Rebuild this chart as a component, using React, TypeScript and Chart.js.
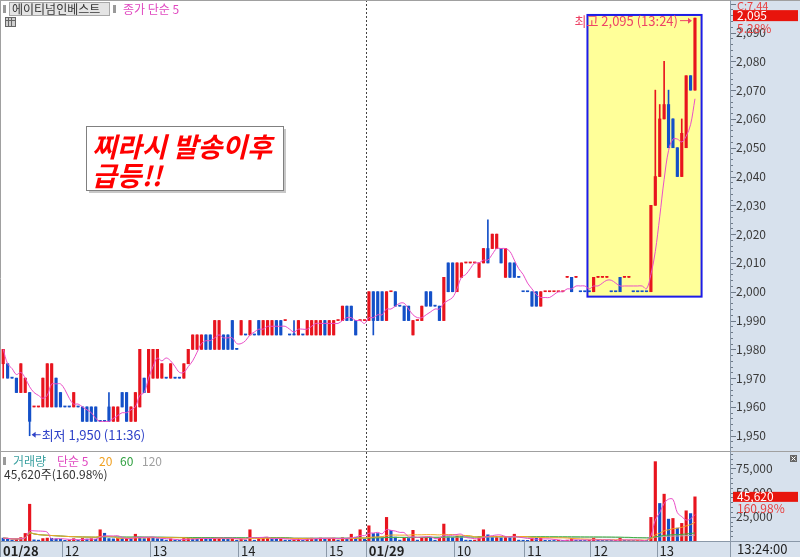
import { useEffect, useRef } from 'react';
import { Chart, registerables } from 'chart.js';

Chart.register(...registerables);

// ---- data (3-minute candles, 01/28 11:18 .. 01/29 13:24) ----
const OPEN = [
  1975, 1975, 1970, 1970, 1965, 1965, 1965, 1960, 1960, 1960,
  1960, 1960, 1970, 1965, 1960, 1960, 1960, 1960, 1960, 1960,
  1960, 1960, 1955, 1955, 1960, 1955, 1955, 1965, 1965, 1955,
  1955, 1960, 1970, 1965, 1970, 1970, 1970, 1970, 1970, 1970,
  1970, 1970, 1975, 1980, 1980, 1980, 1985, 1985, 1980, 1980,
  1985, 1985, 1990, 1980, 1985, 1985, 1985, 1985, 1990, 1985,
  1985, 1985, 1990, 1990, 1990, 1985, 1985, 1985, 1985, 1985,
  1985, 1985, 1985, 1990, 1985, 1985, 1990, 1990, 1995, 1995,
  1990, 1990, 1990, 1990, 2000, 2000, 2000, 1990, 2000, 2000,
  1995, 1995, 1995, 1985, 1990, 1990, 2000, 2000, 1995, 1995,
  1990, 2010, 2010, 2000, 2005, 2010, 2010, 2010, 2005, 2010,
  2015, 2015, 2015, 2015, 2005, 2010, 2010, 2005, 2000, 2000,
  2000, 2000, 1995, 2000, 2000, 2000, 2000, 2000, 2005, 2005,
  2005, 2000, 2000, 2000, 2000, 2005, 2005, 2005, 2000, 2000,
  2005, 2005, 2005, 2000, 2000, 2000, 2000, 2000, 2030, 2040,
  2060, 2065, 2060, 2050, 2040, 2050, 2075, 2070,
];
const HIGH = [
  1980, 1975, 1970, 1970, 1975, 1970, 1965, 1960, 1960, 1970,
  1975, 1975, 1970, 1965, 1960, 1960, 1965, 1960, 1960, 1960,
  1960, 1960, 1955, 1955, 1965, 1960, 1960, 1965, 1965, 1960,
  1965, 1980, 1970, 1980, 1980, 1980, 1975, 1970, 1975, 1970,
  1970, 1975, 1980, 1985, 1985, 1985, 1985, 1985, 1990, 1990,
  1985, 1985, 1990, 1980, 1990, 1985, 1990, 1985, 1990, 1990,
  1990, 1990, 1990, 1990, 1990, 1985, 1990, 1990, 1985, 1990,
  1990, 1990, 1990, 1990, 1990, 1990, 1990, 1995, 1995, 1995,
  1990, 1990, 1990, 2000, 2000, 2000, 2000, 2000, 2000, 2000,
  1995, 1995, 1995, 1990, 1990, 1995, 2000, 2000, 1995, 1995,
  2005, 2010, 2010, 2010, 2010, 2010, 2010, 2010, 2010, 2015,
  2025, 2020, 2020, 2015, 2015, 2010, 2010, 2005, 2000, 2000,
  2000, 2000, 2000, 2000, 2000, 2000, 2000, 2000, 2005, 2005,
  2005, 2000, 2000, 2000, 2005, 2005, 2005, 2005, 2000, 2000,
  2005, 2005, 2005, 2000, 2000, 2000, 2000, 2030, 2070, 2065,
  2080, 2070, 2060, 2050, 2060, 2075, 2075, 2095,
];
const LOW = [
  1970, 1970, 1970, 1965, 1965, 1965, 1950, 1960, 1960, 1960,
  1960, 1960, 1960, 1960, 1960, 1960, 1960, 1960, 1955, 1955,
  1955, 1955, 1955, 1955, 1955, 1955, 1955, 1960, 1955, 1955,
  1955, 1960, 1965, 1965, 1970, 1970, 1970, 1970, 1970, 1970,
  1970, 1970, 1975, 1980, 1980, 1980, 1980, 1980, 1980, 1980,
  1980, 1980, 1980, 1980, 1985, 1985, 1985, 1985, 1985, 1985,
  1985, 1985, 1985, 1985, 1990, 1985, 1985, 1985, 1985, 1985,
  1985, 1985, 1985, 1985, 1985, 1985, 1990, 1990, 1990, 1990,
  1985, 1990, 1990, 1990, 1985, 1990, 1990, 1990, 2000, 1995,
  1995, 1990, 1990, 1985, 1990, 1990, 1995, 1995, 1995, 1990,
  1990, 2000, 2000, 2000, 2005, 2010, 2010, 2010, 2005, 2010,
  2010, 2015, 2015, 2010, 2005, 2005, 2005, 2005, 2000, 2000,
  1995, 1995, 1995, 2000, 2000, 2000, 2000, 2000, 2005, 2000,
  2005, 2000, 2000, 2000, 2000, 2005, 2005, 2005, 2000, 2000,
  2000, 2005, 2005, 2000, 2000, 2000, 2000, 2000, 2030, 2040,
  2060, 2050, 2050, 2040, 2040, 2050, 2070, 2070,
];
const CLOSE = [
  1980, 1970, 1970, 1965, 1975, 1970, 1955, 1960, 1960, 1970,
  1975, 1975, 1960, 1960, 1960, 1960, 1965, 1960, 1955, 1955,
  1955, 1955, 1955, 1955, 1955, 1960, 1960, 1960, 1955, 1960,
  1965, 1980, 1965, 1980, 1980, 1980, 1975, 1970, 1975, 1970,
  1970, 1975, 1980, 1985, 1985, 1985, 1980, 1980, 1990, 1990,
  1980, 1980, 1980, 1980, 1990, 1985, 1990, 1985, 1985, 1990,
  1990, 1990, 1985, 1985, 1990, 1985, 1985, 1990, 1985, 1990,
  1990, 1990, 1990, 1985, 1990, 1990, 1990, 1995, 1990, 1990,
  1985, 1990, 1990, 2000, 1990, 1990, 1990, 2000, 2000, 1995,
  1995, 1990, 1990, 1990, 1990, 1995, 1995, 1995, 1995, 1990,
  2005, 2000, 2000, 2010, 2010, 2010, 2010, 2010, 2010, 2015,
  2010, 2020, 2020, 2010, 2015, 2005, 2005, 2005, 2000, 2000,
  1995, 1995, 2000, 2000, 2000, 2000, 2000, 2000, 2005, 2000,
  2005, 2000, 2000, 2000, 2005, 2005, 2005, 2005, 2000, 2000,
  2000, 2005, 2005, 2000, 2000, 2000, 2000, 2030, 2040, 2060,
  2065, 2050, 2050, 2040, 2055, 2075, 2070, 2095,
];
const VOLUME = [
  3000, 2500, 800, 2000, 3500, 7800, 38000, 1200, 900, 2500,
  3000, 2800, 2200, 1800, 700, 900, 2400, 800, 2600, 2000,
  2400, 1800, 11600, 8000, 2500, 2200, 3000, 2600, 2800, 2400,
  7000, 4000, 2500, 3600, 3200, 2400, 2000, 900, 2200, 800,
  700, 2600, 3000, 2400, 2200, 3000, 2800, 2500, 3200, 3400,
  2600, 2400, 3000, 800, 2200, 900, 11600, 800, 2600, 2800,
  3000, 2600, 2400, 2600, 900, 800, 1200, 2600, 900, 2800,
  3000, 2600, 3200, 2400, 2800, 3000, 900, 3600, 2800, 7000,
  4000, 11600, 2000, 15700, 7700, 7700, 4200, 24400, 11000, 4000,
  900, 3000, 2600, 11000, 900, 3200, 4000, 3600, 800, 3400,
  17500, 4200, 3800, 5000, 4600, 900, 800, 900, 4400, 11600,
  6400, 4200, 4800, 3600, 4400, 3800, 7000, 900, 800, 700,
  3200, 2800, 3400, 700, 600, 600, 700, 600, 900, 2600,
  800, 700, 600, 700, 3000, 800, 700, 700, 600, 700,
  2800, 800, 700, 600, 700, 700, 600, 24400, 82000, 38800,
  48400, 22600, 23300, 13300, 18200, 31200, 28339, 45620,
];

const X_TICK_INDEX = [0, 14, 34, 54, 74, 83, 103, 119, 134, 149];
const X_TICK_LABELS = ['01/28', '12', '13', '14', '15', '01/29', '10', '11', '12', '13'];
const X_MAX = 165.45;
const PRICE_MIN = 1944.7;
const PRICE_MAX = 2100.6;
const VOL_MAX = 93000;
const DAY_BREAK_INDEX = 83;
const HIGH_INDEX = 157;
const LOW_INDEX = 6;
const HIGH_NOTE = '최고 2,095 (13:24)';
const LOW_NOTE = '최저 1,950 (11:36)';
const BOX_X = [133.1, 159.0];
const BOX_Y = [1998.3, 2096.1];
const LAST_PRICE = '2,095';
const LAST_CHANGE = '5.28%';
const LAST_VOLUME = '45,620';
const LAST_VOLUME_RATIO = '160.98%';
const LAST_TIME = '13:24:00';

const RED = '#e8141e';
const BLUE = '#1450c8';
const MA_PINK = '#ea4fc8';
const AXIS_BG = '#d7e1ed';
const FONT = '"Noto Sans CJK KR", "Noto Sans", sans-serif';

function sma(arr: number[], n: number): number[] {
  return arr.map((_, i) => {
    const s = Math.max(0, i - n + 1);
    let t = 0;
    for (let k = s; k <= i; k++) t += arr[k];
    return t / (i - s + 1);
  });
}

function candleColors(): string[] {
  const out: string[] = [];
  for (let i = 0; i < OPEN.length; i++) {
    if (CLOSE[i] > OPEN[i]) out.push(RED);
    else if (CLOSE[i] < OPEN[i]) out.push(BLUE);
    else if (i === 0) out.push(RED);
    else if (CLOSE[i] > CLOSE[i - 1]) out.push(RED);
    else if (CLOSE[i] < CLOSE[i - 1]) out.push(BLUE);
    else out.push(out[i - 1]);
  }
  return out;
}

// volume bars: red when volume rose vs the previous bar, blue when it fell
function volumeColors(): string[] {
  const out: string[] = [];
  for (let i = 0; i < VOLUME.length; i++) {
    if (i === 0) out.push(BLUE);
    else if (VOLUME[i] > VOLUME[i - 1]) out.push(RED);
    else if (VOLUME[i] < VOLUME[i - 1]) out.push(BLUE);
    else out.push(out[i - 1]);
  }
  return out;
}

const htsPlugin = {
  id: 'htsDecor',
  beforeDraw(chart: any) {
    const { ctx } = chart;
    ctx.save();
    ctx.fillStyle = '#ffffff';
    ctx.fillRect(0, 0, 800, 557);
    ctx.fillStyle = AXIS_BG;
    ctx.fillRect(730, 0, 70, 557);
    ctx.fillRect(0, 541, 730, 16);
    ctx.restore();
  },
  beforeDatasetsDraw(chart: any) {
    const { ctx } = chart;
    const x = chart.scales.x;
    const y = chart.scales.y;
    ctx.save();
    const bx0 = x.getPixelForValue(BOX_X[0]);
    const bx1 = x.getPixelForValue(BOX_X[1]);
    const by0 = y.getPixelForValue(BOX_Y[1]);
    const by1 = y.getPixelForValue(BOX_Y[0]);
    ctx.fillStyle = '#ffff99';
    ctx.fillRect(bx0, by0, bx1 - bx0, by1 - by0);
    ctx.strokeStyle = '#1c1ce8';
    ctx.lineWidth = 2;
    ctx.strokeRect(bx0, by0, bx1 - bx0, by1 - by0);
    const dx = Math.round(x.getPixelForValue(DAY_BREAK_INDEX)) - 0.5;
    ctx.strokeStyle = '#444';
    ctx.lineWidth = 1;
    ctx.setLineDash([2, 2]);
    ctx.beginPath();
    ctx.moveTo(dx, 0);
    ctx.lineTo(dx, 541);
    ctx.stroke();
    ctx.setLineDash([]);
    ctx.restore();
  },
  afterDraw(chart: any) {
    const { ctx } = chart;
    const x = chart.scales.x;
    const y = chart.scales.y;
    const yv = chart.scales.yv;
    ctx.save();
    ctx.lineWidth = 1;
    ctx.strokeStyle = '#a0a0a0';
    ctx.beginPath();
    ctx.moveTo(0, 0.5); ctx.lineTo(800, 0.5);
    ctx.moveTo(0.5, 0); ctx.lineTo(0.5, 557);
    ctx.moveTo(0, 451.5); ctx.lineTo(800, 451.5);
    ctx.stroke();
    ctx.strokeStyle = '#8a98a8';
    ctx.beginPath();
    ctx.moveTo(730.5, 0); ctx.lineTo(730.5, 557);
    ctx.moveTo(0, 541.5); ctx.lineTo(800, 541.5);
    ctx.stroke();
    ctx.beginPath();
    for (const t of x.ticks) {
      const px = Math.round(x.getPixelForValue(t.value)) - 0.5;
      ctx.moveTo(px, 541); ctx.lineTo(px, 557);
    }
    ctx.stroke();
    ctx.strokeStyle = '#6e7a88';
    ctx.beginPath();
    for (const t of y.ticks) {
      const py = Math.round(y.getPixelForValue(t.value)) + 0.5;
      if (py < 3 || py > 450) continue;
      const len = t.value % 10 === 0 ? 5 : 2;
      ctx.moveTo(731, py); ctx.lineTo(731 + len, py);
    }
    for (const t of yv.ticks) {
      const py = Math.round(yv.getPixelForValue(t.value)) + 0.5;
      if (py < 453 || py > 540) continue;
      const len = t.value % 25000 === 0 ? 5 : 2;
      ctx.moveTo(731, py); ctx.lineTo(731 + len, py);
    }
    ctx.stroke();

    ctx.textBaseline = 'middle';
    ctx.textAlign = 'left';
    ctx.fillStyle = '#9a9a9a';
    ctx.fillRect(3, 5, 3, 8);
    ctx.fillStyle = '#e4e4e4';
    ctx.fillRect(9.5, 2.5, 100, 13);
    ctx.strokeStyle = '#a8a8a8';
    ctx.strokeRect(9.5, 2.5, 100, 13);
    ctx.fillStyle = '#333';
    ctx.font = `12px ${FONT}`;
    ctx.fillText('에이티넘인베스트', 12, 9.5);
    ctx.fillStyle = '#9a9a9a';
    ctx.fillRect(113, 5, 3, 8);
    ctx.fillStyle = '#e048c0';
    ctx.fillText('종가 단순 5', 123, 9.5);
    ctx.strokeStyle = '#666';
    ctx.fillStyle = '#cfcfcf';
    ctx.fillRect(5.5, 17.5, 10, 9);
    ctx.strokeRect(5.5, 17.5, 10, 9);
    ctx.beginPath();
    ctx.moveTo(8.5, 17.5); ctx.lineTo(8.5, 26.5);
    ctx.moveTo(11.5, 17.5); ctx.lineTo(11.5, 26.5);
    ctx.moveTo(5.5, 20.5); ctx.lineTo(15.5, 20.5);
    ctx.stroke();

    ctx.fillStyle = '#9a9a9a';
    ctx.fillRect(3, 457, 3, 8);
    const vh: [string, string, number][] = [
      ['거래량', '#3aa0a0', 13], ['단순 5', '#e048c0', 57], ['20', '#f0a020', 99], ['60', '#30a040', 120], ['120', '#a0a0a0', 142],
    ];
    for (const [t, c, px] of vh) { ctx.fillStyle = c; ctx.fillText(t, px, 461); }
    ctx.fillStyle = '#333';
    ctx.fillText(`${LAST_VOLUME}주(${LAST_VOLUME_RATIO})`, 4, 474);
    ctx.fillStyle = '#666';
    ctx.fillRect(790, 455, 7, 7);
    ctx.strokeStyle = '#fff';
    ctx.beginPath();
    ctx.moveTo(791.5, 456.5); ctx.lineTo(795.5, 460.5);
    ctx.moveTo(795.5, 456.5); ctx.lineTo(791.5, 460.5);
    ctx.stroke();

    ctx.font = `13px ${FONT}`;
    const hx = x.getPixelForValue(HIGH_INDEX + 0.5);
    const hy = y.getPixelForValue(HIGH[HIGH_INDEX]) + 2.5;
    ctx.strokeStyle = '#ee4466';
    ctx.fillStyle = '#ee4466';
    ctx.beginPath();
    ctx.moveTo(hx - 15, hy); ctx.lineTo(hx - 4, hy);
    ctx.stroke();
    ctx.beginPath();
    ctx.moveTo(hx - 3, hy); ctx.lineTo(hx - 7, hy - 3); ctx.lineTo(hx - 7, hy + 3); ctx.closePath();
    ctx.fill();
    ctx.textAlign = 'right';
    ctx.fillText(HIGH_NOTE, hx - 17, hy);
    ctx.textAlign = 'left';

    const lx = x.getPixelForValue(LOW_INDEX + 0.5) + 2;
    const ly = y.getPixelForValue(LOW[LOW_INDEX]) - 1;
    ctx.strokeStyle = '#2f42c8';
    ctx.fillStyle = '#2f42c8';
    ctx.beginPath();
    ctx.moveTo(lx + 1, ly); ctx.lineTo(lx + 9, ly);
    ctx.stroke();
    ctx.beginPath();
    ctx.moveTo(lx, ly); ctx.lineTo(lx + 4, ly - 3); ctx.lineTo(lx + 4, ly + 3); ctx.closePath();
    ctx.fill();
    ctx.fillText(LOW_NOTE, lx + 10, ly);

    ctx.fillStyle = '#c8c8c8';
    ctx.fillRect(89, 129, 197, 64);
    ctx.fillStyle = '#ffffff';
    ctx.fillRect(86.5, 126.5, 197, 64);
    ctx.strokeStyle = '#808080';
    ctx.strokeRect(86.5, 126.5, 197, 64);
    ctx.fillStyle = '#ff0000';
    ctx.font = `italic bold 27px ${FONT}`;
    ctx.textBaseline = 'alphabetic';
    ctx.fillText('찌라시 발송이후', 92, 157);
    ctx.fillText('급등!!', 92, 186);
    ctx.textBaseline = 'middle';

    ctx.font = `11px ${FONT}`;
    ctx.fillStyle = '#e84040';
    ctx.fillText('C:7.44', 737, 6);
    const pY = y.getPixelForValue(CLOSE[CLOSE.length - 1]) - 2.5;
    ctx.fillStyle = '#e8140c';
    ctx.fillRect(733, pY - 5.5, 65, 11);
    ctx.font = `12px ${FONT}`;
    ctx.fillStyle = '#ffffff';
    ctx.fillText(LAST_PRICE, 737, pY);
    ctx.fillStyle = '#e84040';
    ctx.fillText(LAST_CHANGE, 737, pY + 12.5);
    const vY = yv.getPixelForValue(VOLUME[VOLUME.length - 1]);
    ctx.fillStyle = '#e8140c';
    ctx.fillRect(733, vY - 5, 65, 10);
    ctx.fillStyle = '#ffffff';
    ctx.fillText(LAST_VOLUME, 737, vY);
    ctx.fillStyle = '#e84040';
    ctx.fillText(LAST_VOLUME_RATIO, 737, vY + 12);
    ctx.fillStyle = '#222';
    ctx.font = `13px ${FONT}`;
    ctx.fillText(LAST_TIME, 737, 549);
    ctx.restore();
  },
};

export default function App() {
  const ref = useRef<HTMLCanvasElement | null>(null);
  useEffect(() => {
    const canvas = ref.current;
    if (!canvas) return;
    const colors = candleColors();
    const vColors = volumeColors();
    const closeMA5 = sma(CLOSE, 5);
    const volMA = [5, 20, 60, 120].map((n) => sma(VOLUME, n));
    const volMAColors = ['#ea4fc8', '#f5a623', '#3cb043', '#b4b4b4'];
    const pts = (arr: number[]) => arr.map((v, i) => ({ x: i + 0.5, y: v }));

    const chart = new Chart(canvas, {
      type: 'bar',
      data: {
        datasets: [
          {
            type: 'line', label: 'MA5', yAxisID: 'y', data: pts(closeMA5), borderColor: MA_PINK,
            borderWidth: 1, pointRadius: 0, tension: 0.35, order: 0,
          } as any,
          {
            label: 'body', yAxisID: 'y', data: OPEN.map((o, i) => ({ x: i + 0.5, y: [o, CLOSE[i]] })),
            backgroundColor: colors, barThickness: 2.5, minBarLength: 1, grouped: false, order: 1,
          } as any,
          {
            label: 'wick', yAxisID: 'y', data: LOW.map((l, i) => ({ x: i + 0.5, y: [l, HIGH[i]] })),
            backgroundColor: colors, barThickness: 1, grouped: false, order: 2,
          } as any,
          ...volMA.map((m, k) => ({
            type: 'line', label: 'vma' + k, yAxisID: 'yv', data: pts(m), borderColor: volMAColors[k],
            borderWidth: 1, pointRadius: 0, tension: 0.35, order: 0,
          } as any)),
          {
            label: 'volume', yAxisID: 'yv', data: pts(VOLUME),
            backgroundColor: vColors, barThickness: 2.5, grouped: false, order: 3,
          } as any,
        ],
      },
      options: {
        responsive: false,
        animation: false,
        devicePixelRatio: 1,
        layout: { padding: { left: 1, top: 2, right: 0, bottom: 0 } },
        plugins: { legend: { display: false }, tooltip: { enabled: false } },
        scales: {
          x: {
            type: 'linear', min: 0, max: X_MAX, offset: false, position: 'bottom',
            grid: { display: false, drawTicks: false },
            border: { display: false },
            afterBuildTicks: (s: any) => { s.ticks = X_TICK_INDEX.map((v) => ({ value: v })); },
            afterFit: (s: any) => { s.height = 16; s.paddingLeft = 0; s.paddingRight = 0; },
            ticks: {
              autoSkip: false, maxRotation: 0, align: 'start', padding: 2, labelOffset: 2, color: '#222',
              font: (c: any) => ({ family: FONT, size: 13, weight: (X_TICK_LABELS[c.index] && X_TICK_LABELS[c.index].includes('/')) ? 'bold' : 'normal' }),
              callback: (_v: any, i: number) => X_TICK_LABELS[i],
            },
          },
          y: {
            type: 'linear', position: 'right', stack: 'panes', stackWeight: 449, min: PRICE_MIN, max: PRICE_MAX,
            grid: { display: false, drawTicks: false }, border: { display: false },
            afterBuildTicks: (s: any) => { const t = []; for (let v = 1946; v <= 2100; v += 2) t.push({ value: v }); s.ticks = t; },
            afterFit: (s: any) => { s.width = 70; s.paddingTop = 0; s.paddingBottom = 0; },
            ticks: {
              autoSkip: false, padding: 6, color: '#3a3a3a', font: { family: FONT, size: 12 },
              callback: (v: any) => (v % 10 === 0 && v >= 1950 && v <= 2090 ? Number(v).toLocaleString('en-US') : ''),
            },
          },
          yv: {
            type: 'linear', position: 'right', stack: 'panes', stackWeight: 90, min: 0, max: VOL_MAX,
            grid: { display: false, drawTicks: false }, border: { display: false },
            afterBuildTicks: (s: any) => { const t = []; for (let v = 0; v <= 90000; v += 5000) t.push({ value: v }); s.ticks = t; },
            afterFit: (s: any) => { s.width = 70; s.paddingTop = 0; s.paddingBottom = 0; },
            ticks: {
              autoSkip: false, padding: 6, color: '#3a3a3a', font: { family: FONT, size: 12 },
              callback: (v: any) => (v > 0 && v % 25000 === 0 ? Number(v).toLocaleString('en-US') : ''),
            },
          },
        },
      } as any,
      plugins: [htsPlugin],
    });
    return () => chart.destroy();
  }, []);

  return (
    <div style={{ position: 'absolute', left: 0, top: 0, width: 800, height: 557, background: '#fff' }}>
      <canvas ref={ref} width={800} height={557} style={{ display: 'block', width: 800, height: 557 }} />
    </div>
  );
}
